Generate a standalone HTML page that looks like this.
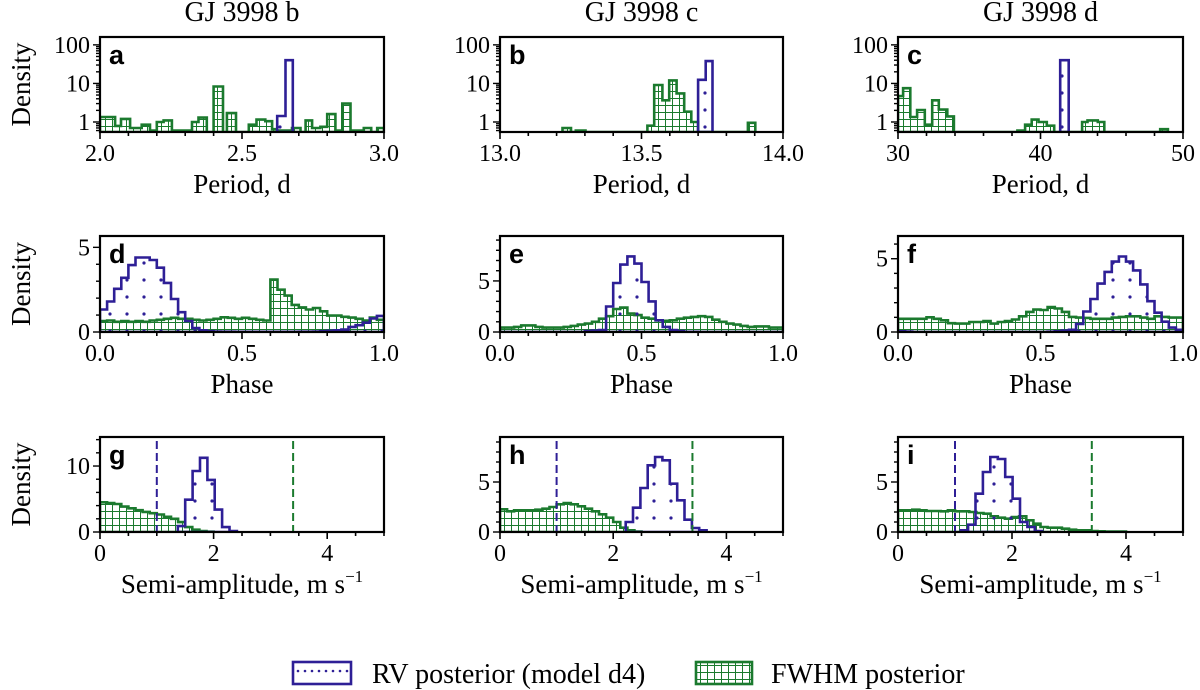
<!DOCTYPE html>
<html><head><meta charset="utf-8"><style>
html,body{margin:0;padding:0;background:#fff;width:1200px;height:690px;overflow:hidden}
svg{display:block;font-family:"Liberation Serif",serif}
</style></head><body>
<svg id="fig" width="1200" height="690" viewBox="0 0 1200 690" xmlns="http://www.w3.org/2000/svg">
<defs>
<pattern id="grid" patternUnits="userSpaceOnUse" width="7" height="7"><rect width="7" height="7" fill="#fff"/><path d="M0 0.5H7M0.5 0V7" stroke="#1b7a2e" stroke-width="1"/></pattern>
<pattern id="dots" patternUnits="userSpaceOnUse" width="17" height="17"><circle cx="8" cy="8" r="1.6" fill="#2e1f96"/></pattern>
<pattern id="ldots" patternUnits="userSpaceOnUse" width="7" height="22"><circle cx="4" cy="11" r="1.3" fill="#2e1f96"/></pattern>
</defs>
</svg>
<script>
const BLUE="#2e1f96", GREEN="#1b7a2e";
// Panel a
const aGreenEdges=[2.000,2.053,2.074,2.106,2.147,2.176,2.200,2.224,2.253,2.324,2.347,2.376,2.400,2.433,2.447,2.479,2.524,2.551,2.582,2.606,2.624,2.676,2.706,2.724,2.747,2.776,2.800,2.829,2.853,2.882,2.929,2.955,2.976,3.000];
const aGreenVals=[1.35,0.79,1.2,0.7,0.85,0.6,1.0,1.1,0.6,1.0,1.3,0,8.3,0,1.7,0,0.85,1.15,1.05,0.65,0.6,0.7,0,1.1,0.7,0.75,1.6,0.6,3.0,0.6,0.7,0,0.7];
const aBlueEdges=[2.624,2.653,2.679];
const aBlueVals=[1.43,40];
// Panel b
const bGreenEdges=[13.221,13.251,13.268,13.302,13.521,13.545,13.574,13.598,13.624,13.651,13.676,13.700,13.876,13.902];
const bGreenVals=[0.7,0,0.6,0,0.8,9.1,3.66,12,5.5,1.85,1.0,0,0.95];
const bBlueEdges=[13.700,13.727,13.751];
const bBlueVals=[12.4,38];
// Panel c
const cGreenEdges=[30,30.36,30.86,31.34,31.88,32.4,32.86,33.46,33.92,38.38,38.92,39.38,39.86,40.44,40.96,42.92,43.3,44.02,44.48,48.4,48.94];
const cGreenVals=[4.7,7.5,1.35,2.05,0.85,3.66,2.1,1.4,0,0.6,0.85,1.15,1.0,0.8,0,1.0,1.1,1.0,0,0.65];
const cBlueEdges=[41.38,41.98];
const cBlueVals=[40];
// Phase panels (bins from 0, width 0.025)
const dBlueVals=[1.33,1.8,2.55,3.2,3.95,4.4,4.4,4.25,3.8,2.9,1.95,1.17,0.65,0.23,0.1,0.05,0.03,0.02,0.02,0.01,0.01,0.01,0.01,0.01,0.01,0.01,0.01,0.01,0.02,0.02,0.03,0.05,0.07,0.1,0.15,0.3,0.4,0.55,0.8,0.95];
const dGreenVals=[0.65,0.68,0.6,0.65,0.6,0.65,0.6,0.68,0.72,0.78,0.84,0.78,0.78,0.72,0.68,0.72,0.78,0.87,0.84,0.78,0.84,0.78,0.72,0.68,3.1,2.5,2.15,1.6,1.45,1.33,1.42,1.22,0.97,0.97,0.9,0.85,0.78,0.68,0.85,0.72];
const eBlueVals=[0,0,0,0,0,0,0,0,0,0,0,0,0.1,0.15,0.2,2.5,4.8,6.6,7.4,6.7,4.9,3.0,1.15,0.5,0.2,0.1,0.02,0.02,0,0,0,0,0,0,0,0,0,0,0,0];
const eGreenVals=[0.43,0.43,0.5,0.65,0.65,0.5,0.43,0.43,0.43,0.5,0.6,0.72,0.82,1.0,1.3,1.55,2.25,2.4,1.8,1.65,1.4,1.3,1.15,1.1,1.15,1.3,1.4,1.48,1.55,1.48,1.2,1.0,0.82,0.72,0.6,0.5,0.55,0.55,0.43,0.43];
const fBlueVals=[0.05,0.03,0,0,0,0,0,0,0,0,0,0,0,0,0,0,0,0,0,0,0,0.02,0.05,0.1,0.15,0.55,1.4,2.25,3.3,4.1,4.8,5.15,4.8,4.2,3.25,2.1,1.32,0.7,0.3,0.15];
const fGreenVals=[0.9,0.9,0.9,0.9,1.0,0.9,0.8,0.6,0.57,0.57,0.68,0.68,0.75,0.57,0.68,0.75,0.85,1.07,1.37,1.53,1.5,1.7,1.6,1.37,1.03,0.98,0.96,0.9,0.9,0.9,0.98,1.03,1.07,1.07,0.98,0.9,1.07,1.03,0.98,0.98];
// Semi-amplitude panels
const gBlueStart=1.37, gBlueWidth=0.13;
const gBlueVals=[0.9,4.9,9.25,11.25,7.9,3.4,0.75,0.15];
const gGreenVals=[4.5,4.4,4.25,3.85,3.6,3.3,3.05,2.85,2.65,2.3,2.0,1.5,0.75,0.35,0.15,0.05];
const hBlueStart=2.22, hBlueWidth=0.13;
const hBlueVals=[1.0,2.43,4.4,6.67,7.5,7.17,4.83,3.17,1.23,0.4,0.17];
const hGreenVals=[2.27,2.07,2.17,2.17,2.17,2.23,2.33,2.5,2.77,2.9,2.77,2.57,2.33,2.07,1.77,1.43,1.0,0.43,0.17,0.05];
const iBlueStart=1.1, iBlueWidth=0.13;
const iBlueVals=[0.17,0.73,3.83,6.0,7.5,7.3,5.5,3.33,1.0,0.5,0.1];
const iGreenVals=[2.17,2.17,2.23,2.17,2.1,2.1,2.07,2.17,2.07,2.07,2.0,1.9,1.83,1.57,1.43,1.33,1.5,1.57,1.17,0.83,0.5,0.43,0.43,0.33,0.23,0.17,0.17,0.1,0.07,0.05,0.05,0.05];
const ampBinWidth=0.125, phaseBinWidth=0.025;
const rvLimit=1.0, fwhmLimit=3.4;
const titles=["GJ 3998 b","GJ 3998 c","GJ 3998 d"];
const letters=["a","b","c","d","e","f","g","h","i"];

const svg=document.getElementById('fig');
const NS="http://www.w3.org/2000/svg";
function el(tag,attrs,parent,text){const e=document.createElementNS(NS,tag);for(const k in attrs)e.setAttribute(k,attrs[k]);if(text!==undefined)e.textContent=text;(parent||svg).appendChild(e);return e;}
function uni(start,w,n){const r=[];for(let i=0;i<=n;i++)r.push(start+i*w);return r;}

const cols=[[100,384],[500,783],[898,1183]];
const rows=[[37,132],[236,332],[437,532]];
const TICK=24, LAB=27;

const panels=[
 {xr:[2,3],yr:[0.55,160],log:true,xt:[2.0,2.5,3.0],xl:["2.0","2.5","3.0"],xm:0.1,yt:[1,10,100],yl:["1","10","100"],h:[[aGreenEdges,aGreenVals,'g'],[aBlueEdges,aBlueVals,'b']]},
 {xr:[13,14],yr:[0.55,160],log:true,xt:[13,13.5,14],xl:["13.0","13.5","14.0"],xm:0.1,yt:[1,10,100],yl:["1","10","100"],h:[[bGreenEdges,bGreenVals,'g'],[bBlueEdges,bBlueVals,'b']]},
 {xr:[30,50],yr:[0.55,160],log:true,xt:[30,40,50],xl:["30","40","50"],xm:2,yt:[1,10,100],yl:["1","10","100"],h:[[cGreenEdges,cGreenVals,'g'],[cBlueEdges,cBlueVals,'b']]},
 {xr:[0,1],yr:[0,5.67],xt:[0,0.5,1],xl:["0.0","0.5","1.0"],xm:0.1,yt:[0,5],yl:["0","5"],ym:1,h:[[uni(0,phaseBinWidth,40),dGreenVals,'g'],[uni(0,phaseBinWidth,40),dBlueVals,'b']]},
 {xr:[0,1],yr:[0,9.4],xt:[0,0.5,1],xl:["0.0","0.5","1.0"],xm:0.1,yt:[0,5],yl:["0","5"],ym:1,h:[[uni(0,phaseBinWidth,40),eGreenVals,'g'],[uni(0,phaseBinWidth,40),eBlueVals,'b']]},
 {xr:[0,1],yr:[0,6.55],xt:[0,0.5,1],xl:["0.0","0.5","1.0"],xm:0.1,yt:[0,5],yl:["0","5"],ym:1,h:[[uni(0,phaseBinWidth,40),fGreenVals,'g'],[uni(0,phaseBinWidth,40),fBlueVals,'b']]},
 {xr:[0,5],yr:[0,14.4],xt:[0,2,4],xl:["0","2","4"],xm:0.5,yt:[0,10],yl:["0","10"],ym:2,dash:true,h:[[uni(0,ampBinWidth,gGreenVals.length),gGreenVals,'g'],[uni(gBlueStart,gBlueWidth,gBlueVals.length),gBlueVals,'b']]},
 {xr:[0,5],yr:[0,9.5],xt:[0,2,4],xl:["0","2","4"],xm:0.5,yt:[0,5],yl:["0","5"],ym:1,dash:true,h:[[uni(0,ampBinWidth,hGreenVals.length),hGreenVals,'g'],[uni(hBlueStart,hBlueWidth,hBlueVals.length),hBlueVals,'b']]},
 {xr:[0,5],yr:[0,9.5],xt:[0,2,4],xl:["0","2","4"],xm:0.5,yt:[0,5],yl:["0","5"],ym:1,dash:true,h:[[uni(0,ampBinWidth,iGreenVals.length),iGreenVals,'g'],[uni(iBlueStart,iBlueWidth,iBlueVals.length),iBlueVals,'b']]},
];
const xTitles=["Period, d","Phase","Semi-amplitude, m s"];

panels.forEach((p,idx)=>{
  const r=Math.floor(idx/3), c=idx%3;
  const [X0,X1]=cols[c], [Y0,Y1]=rows[r];
  const g=el('g',{});
  
  
  const sx=v=>X0+(v-p.xr[0])/(p.xr[1]-p.xr[0])*(X1-X0);
  const sy=v=>{ if(p.log){ if(v<=p.yr[0]) return Y1; const l0=Math.log10(p.yr[0]),l1=Math.log10(p.yr[1]); return Y1-(Math.log10(v)-l0)/(l1-l0)*(Y1-Y0);} return Y1-(v-p.yr[0])/(p.yr[1]-p.yr[0])*(Y1-Y0); };
  const clip=el('clipPath',{id:'clip'+idx},g); el('rect',{x:X0,y:Y0,width:X1-X0,height:Y1-Y0},clip);
  const hg=el('g',{'clip-path':'url(#clip'+idx+')'},g);
  p.h.forEach(([edges,vals,col])=>{
    let d='M'+sx(edges[0]).toFixed(1)+' '+Y1;
    for(let i=0;i<vals.length;i++){const y=sy(vals[i]).toFixed(1);d+=' L'+sx(edges[i]).toFixed(1)+' '+y+' L'+sx(edges[i+1]).toFixed(1)+' '+y;}
    d+=' L'+sx(edges[edges.length-1]).toFixed(1)+' '+Y1+' Z';
    const path=el('path',{d:d,fill:col==='g'?'url(#grid)':'url(#dots)',stroke:col==='g'?GREEN:BLUE,'stroke-width':2.6,'stroke-linejoin':'miter'},hg);
    
    
  });
  if(p.dash){
    [[rvLimit,BLUE,'rv-threshold-line'],[fwhmLimit,GREEN,'fwhm-threshold-line']].forEach(([v,colr,nm])=>{
      const ln=el('line',{x1:sx(v),x2:sx(v),y1:Y0+4,y2:Y1,stroke:colr,'stroke-width':2,'stroke-dasharray':'8,4'},hg);
      
      
    });
  }
  el('rect',{x:X0,y:Y0,width:X1-X0,height:Y1-Y0,fill:'none',stroke:'#000','stroke-width':2.2},g);
  for(let v=p.xr[0];v<=p.xr[1]+1e-9;v+=p.xm){const x=sx(v);const maj=p.xt.some(t=>Math.abs(t-v)<1e-6);el('line',{x1:x,x2:x,y1:Y1,y2:Y1+(maj?7:4),stroke:'#000','stroke-width':1.6},g);}
  p.xt.forEach((v,i)=>{const t=el('text',{x:sx(v),y:Y1+29,'text-anchor':'middle','font-size':TICK},g,p.xl[i]);});
  if(p.log){
    for(let dec=0.1;dec<=100;dec*=10){for(let m=1;m<10;m++){const v=dec*m;if(v<p.yr[0]||v>p.yr[1])continue;const y=sy(v);el('line',{x1:X0,x2:X0-(m===1?7:4),y1:y,y2:y,stroke:'#000','stroke-width':1.4},g);}}
  } else {
    for(let v=0;v<=p.yr[1]+1e-9;v+=p.ym){const y=sy(v);const maj=p.yt.some(t=>Math.abs(t-v)<1e-6);el('line',{x1:X0,x2:X0-(maj?7:4),y1:y,y2:y,stroke:'#000','stroke-width':1.4},g);}
  }
  p.yt.forEach((v,i)=>{const t=el('text',{x:X0-10,y:sy(v)+8,'text-anchor':'end','font-size':TICK},g,p.yl[i]);});
  const L=el('text',{x:X0+9,y:Y0+27,'font-size':27,'font-weight':'bold','font-family':'Liberation Sans, sans-serif'},g,letters[idx]);
  
  
  const xt=el('text',{x:(X0+X1)/2,y:Y1+61,'text-anchor':'middle','font-size':LAB},g,xTitles[r]);
  
  
  if(r===2){el('tspan',{'font-size':17,dy:-11},xt,'\u22121');}
  if(c===0){
    const yt=el('text',{x:0,y:0,'text-anchor':'middle','font-size':LAB,transform:'translate(30,'+((Y0+Y1)/2)+') rotate(-90)'},g,'Density');
    
    
  }
  if(r===0){
    const tt=el('text',{x:(X0+X1)/2,y:21,'text-anchor':'middle','font-size':28},g,titles[c]);
    
    
  }
});
const lg=el('g',{});


const lb=el('rect',{x:293,y:662,width:58,height:22,fill:'url(#ldots)',stroke:BLUE,'stroke-width':2.6},lg);


const lt1=el('text',{x:372,y:683,'font-size':28},lg,'RV posterior (model d4)');


const lgr=el('rect',{x:696,y:662,width:56,height:22,fill:'url(#grid)',stroke:GREEN,'stroke-width':2.6},lg);


const lt2=el('text',{x:771,y:683,'font-size':28},lg,'FWHM posterior');


</script>
</body></html>
